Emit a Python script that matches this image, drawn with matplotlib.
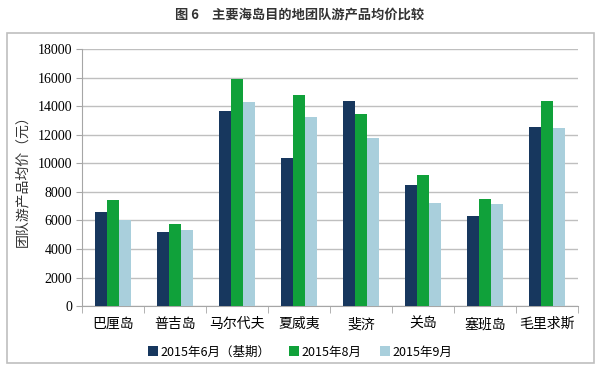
import matplotlib
matplotlib.use("Agg")
import matplotlib.pyplot as plt
import numpy as np
from matplotlib.patches import Rectangle

plt.rcParams['font.family'] = ['Noto Sans CJK SC', 'DejaVu Sans']
plt.rcParams['font.serif'] = ['Liberation Serif', 'DejaVu Serif']

# data
places = ['巴厘岛', '普吉岛', '马尔代夫', '夏威夷', '斐济', '关岛', '塞班岛', '毛里求斯']
jun = [6560, 5160, 13630, 10390, 14360, 8450, 6280, 12560]
aug = [7420, 5760, 15920, 14800, 13420, 9200, 7470, 14380]
sep = [6020, 5320, 14290, 13260, 11790, 7210, 7120, 12440]
series_names = ['2015年6月（基期）', '2015年8月', '2015年9月']
colors = ['#17375E', '#10A13A', '#A9CFDC']
yticks = list(range(0, 18001, 2000))

fig = plt.figure(figsize=(6, 3.67), dpi=100)
ax = fig.add_axes([0.1367, 0.166, 0.8263, 0.7005])

# outer gray frame
fig.patches.append(Rectangle((7 / 600, 1 - 363 / 367), 587 / 600, 330 / 367,
                             transform=fig.transFigure, fill=False,
                             edgecolor='#BFBFBF', linewidth=1.2))

fig.text(0.5, 1 - 14 / 367, '图 6　主要海岛目的地团队游产品均价比较',
         ha='center', va='center', fontsize=9.5, fontweight='bold', color='#333333')

x = np.arange(len(places))
w = 0.195
for i, (vals, name, c) in enumerate(zip([jun, aug, sep], series_names, colors)):
    ax.bar(x + (i - 1) * w, vals, width=w, color=c, label=name, zorder=3)

ax.set_xlim(-0.5, len(places) - 0.5)
ax.set_ylim(0, 18000)
ax.set_yticks(yticks)
ax.set_xticks(x)
ax.set_xticklabels(places, fontsize=10)
ax.set_xticks(np.arange(-0.5, len(places)), minor=True)
ax.tick_params(axis='x', which='major', length=0, pad=8)
ax.tick_params(axis='x', which='minor', length=5, color='#A6A6A6')
ax.tick_params(axis='y', length=4, color='#A6A6A6', pad=3, labelsize=10,
               labelfontfamily='serif')
ax.grid(axis='y', color='#BFBFBF', linewidth=1, zorder=0)
for s in ['top', 'right']:
    ax.spines[s].set_visible(False)
for s in ['left', 'bottom']:
    ax.spines[s].set_color('#A6A6A6')

ax.set_ylabel('团队游产品均价（元）', fontsize=10, labelpad=6, color='#333333')

fig.legend(loc='center', bbox_to_anchor=(0.5, 1 - 352 / 367), ncol=3, frameon=False,
           fontsize=9, handlelength=0.8, handleheight=0.8, handletextpad=0.2,
           columnspacing=1.5)

fig.savefig('out.png', dpi=100)
